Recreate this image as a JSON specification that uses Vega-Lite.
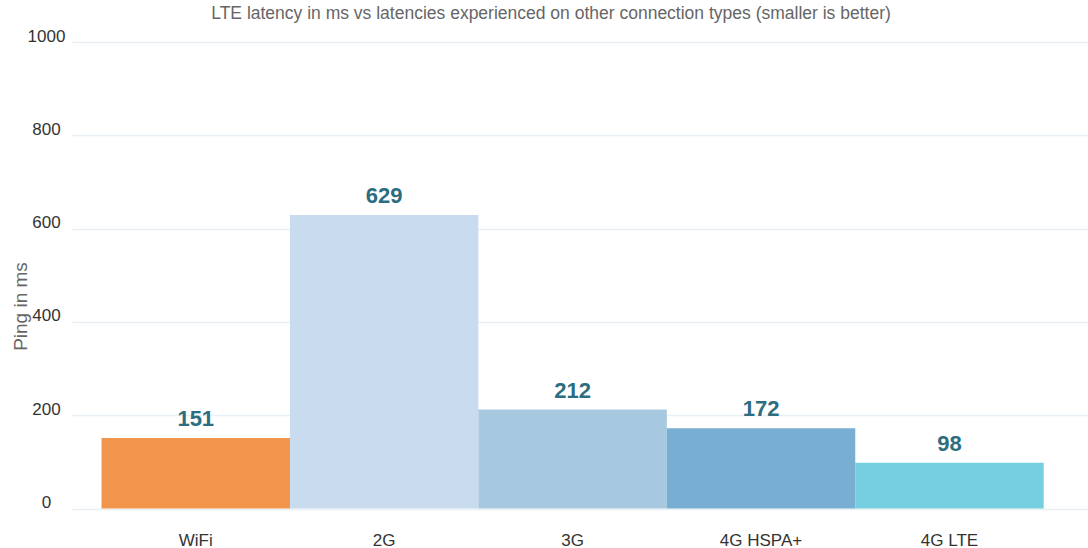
{
  "$schema": "https://vega.github.io/schema/vega-lite/v6.json",
  "autosize": {"type": "none"},
  "padding": {"left": 72, "top": 42, "right": 0, "bottom": 40},
  "width": 1016,
  "height": 466.5,
  "background": "white",
  "title": {
    "text": "LTE latency in ms vs latencies experienced on other connection types (smaller is better)",
    "font": "Liberation Sans",
    "fontSize": 17.5,
    "fontWeight": "normal",
    "color": "#666666",
    "anchor": "middle",
    "frame": "group",
    "dx": -29,
    "baseline": "alphabetic",
    "offset": -9
  },
  "data": {
    "values": [
      {"type": "WiFi", "ping": 151},
      {"type": "2G", "ping": 629},
      {"type": "3G", "ping": 212},
      {"type": "4G HSPA+", "ping": 172},
      {"type": "4G LTE", "ping": 98}
    ]
  },
  "config": {
    "view": {"stroke": null},
    "font": "Liberation Sans"
  },
  "encoding": {
    "x": {
      "field": "type",
      "type": "nominal",
      "sort": null,
      "scale": {"paddingInner": 0, "paddingOuter": 0.196, "align": 0.4},
      "axis": {
        "title": null,
        "domain": false,
        "ticks": false,
        "tickSize": 0,
        "labelAngle": 0,
        "labelFont": "Liberation Sans",
        "labelFontSize": 17,
        "labelColor": "#333333",
        "labelBaseline": "alphabetic",
        "labelPadding": 37
      }
    },
    "y": {
      "field": "ping",
      "type": "quantitative",
      "scale": {"domain": [0, 1000], "nice": false},
      "axis": {
        "title": "Ping in ms",
        "titleFont": "Liberation Sans",
        "titleFontSize": 19,
        "titleFontWeight": "normal",
        "titleColor": "#666666",
        "titleAngle": -90,
        "titleBaseline": "alphabetic",
        "titleAlign": "center",
        "titleX": -46,
        "titleY": 264,
        "values": [0, 200, 400, 600, 800, 1000],
        "format": "d",
        "domain": false,
        "ticks": false,
        "tickSize": 0,
        "labelFont": "Liberation Sans",
        "labelFontSize": 17,
        "labelColor": "#333333",
        "labelAlign": "center",
        "labelBaseline": "alphabetic",
        "labelOffset": -1,
        "labelPadding": 26,
        "grid": true,
        "gridColor": "#e9f0f3",
        "gridWidth": 1.5
      }
    }
  },
  "layer": [
    {
      "mark": {"type": "bar"},
      "encoding": {
        "color": {
          "field": "type",
          "type": "nominal",
          "scale": {
            "domain": ["WiFi", "2G", "3G", "4G HSPA+", "4G LTE"],
            "range": ["#F1954D", "#C9DBEF", "#A7C9DF", "#79AED3", "#75CFE1"]
          },
          "legend": null
        }
      }
    },
    {
      "mark": {
        "type": "text",
        "baseline": "alphabetic",
        "dy": -12,
        "font": "Liberation Sans",
        "fontSize": 22,
        "fontWeight": "bold",
        "color": "#2C6D80"
      },
      "encoding": {
        "text": {"field": "ping", "type": "quantitative"}
      }
    }
  ]
}
